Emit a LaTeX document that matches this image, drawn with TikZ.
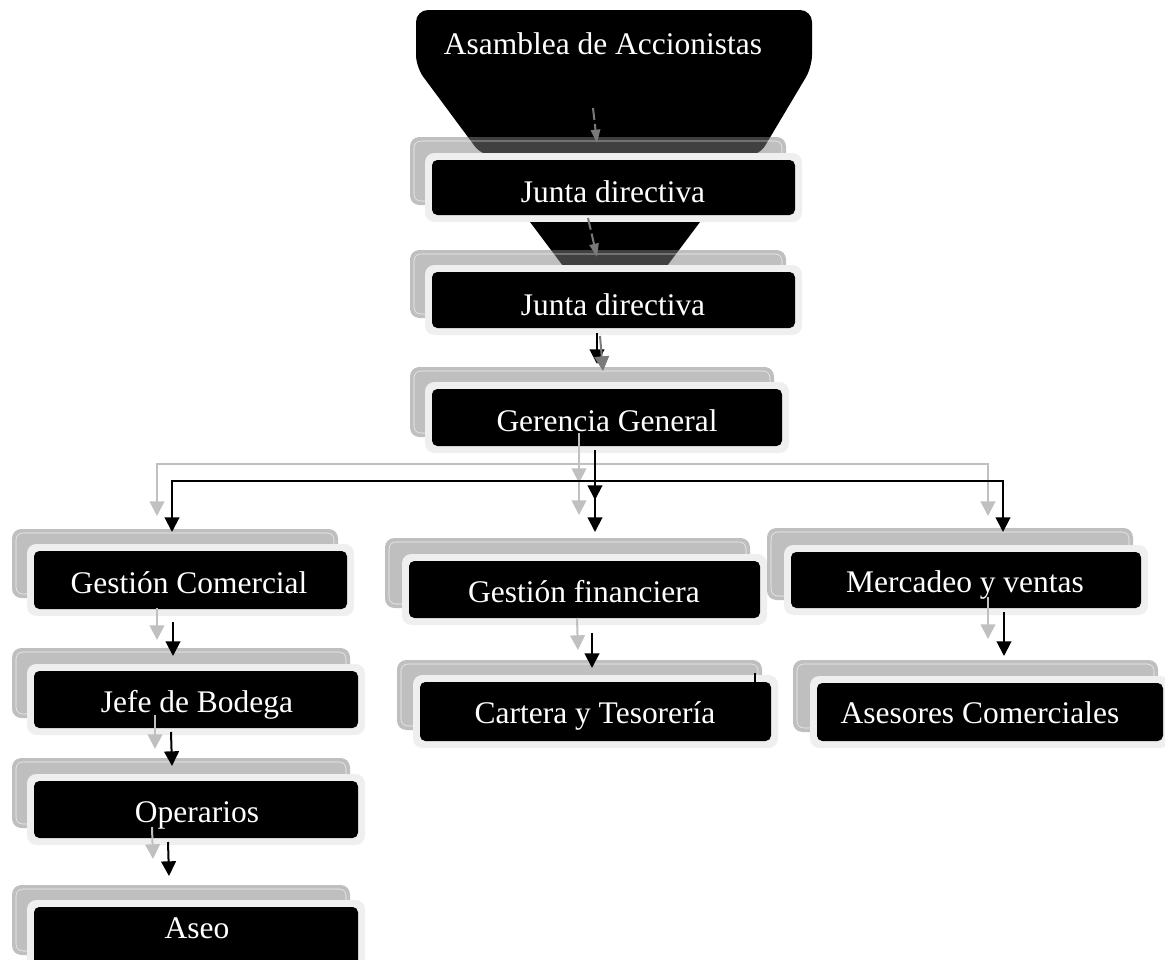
\documentclass[tikz,border=0pt]{standalone}
\usepackage{fontspec}
\setmainfont{Liberation Serif}
\usetikzlibrary{arrows.meta,calc}
\definecolor{framegray}{HTML}{EFEFEF}
\definecolor{linegray}{HTML}{C0C0C0}
\definecolor{midgray}{HTML}{7A7A7A}
\tikzset{
  backbox/.style={fill=gray, fill opacity=0.5, rounded corners=7pt},
  backline/.style={draw=white, draw opacity=0.75, line width=0.4pt, rounded corners=5pt},
  framebox/.style={fill=framegray, rounded corners=7pt},
  innerbox/.style={fill=black, rounded corners=4pt},
  lbl/.style={text=white, inner sep=0pt, anchor=base, font=\fontsize{23.6}{28}\selectfont},
  blk/.style={draw=black, line width=1.5pt, -{Triangle[width=11pt,length=11pt]}},
  gry/.style={draw=linegray, line width=1.5pt, -{Triangle[width=11pt,length=11pt]}},
  blkline/.style={draw=black, line width=1.3pt},
  dgry/.style={draw=midgray, line width=1.5pt, dash pattern=on 9pt off 3pt, -{Triangle[width=7pt,length=10pt]}},
  mgry/.style={draw=midgray, line width=1.5pt, -{Triangle[width=11pt,length=11pt]}}
}
\newcommand\orgunit[8]{%
  \fill[backbox] (#1,#2) rectangle (#3,#4);
  \draw[backline] ($(#1,#2)+(4,4)$) rectangle ($(#3,#4)+(-4,-4)$);
  \fill[framebox] (#5,#6) rectangle (#7,#8);
  \fill[innerbox] ($(#5,#6)+(7,7)$) rectangle ($(#7,#8)+(-7,-7)$);
}
\begin{document}
\begin{tikzpicture}[x=0.75pt,y=-0.75pt]
\useasboundingbox (0,0) rectangle (1165,960);
% top trapezoid
\fill[black, rounded corners=9pt] (482,156) -- (416,67) -- (416,10) -- (812,10) -- (812,67) -- (759,156) -- cycle;
\node[lbl] (asamblea) at (603,55) {Asamblea de Accionistas};
% Junta directiva 1
\orgunit{410}{137}{786}{205}{425}{153}{802}{222}
\node[lbl] (junta1) at (613,202) {Junta directiva};
% second trapezoid
\fill[black] (530,222) -- (700,222) -- (667,266) -- (563,266) -- cycle;
% Junta directiva 2
\orgunit{410}{250}{786}{318}{425}{265}{802}{335}
\node[lbl] (junta2) at (613,315) {Junta directiva};
% Gerencia
\orgunit{410}{367}{774}{437}{425}{382}{789}{453}
\node[lbl] (gerencia) at (607,431) {Gerencia General};
% row 2
\orgunit{12}{529}{338}{598}{27}{544}{354}{616}
\node[lbl] (gc) at (189,593) {Gestión Comercial};
\orgunit{385}{538}{750}{608}{402}{554}{767}{625}
\node[lbl] (gf) at (584,602) {Gestión financiera};
\orgunit{767}{528}{1133}{600}{784}{545}{1148}{615}
\node[lbl] (mv) at (965,592) {Mercadeo y ventas};
% row 3
\orgunit{12}{648}{350}{718}{27}{664}{365}{735}
\node[lbl] (jb) at (197,712) {Jefe de Bodega};
\orgunit{397}{660}{762}{730}{413}{675}{778}{748}
\node[lbl] (ct) at (595,723) {Cartera y Tesorería};
\orgunit{793}{660}{1158}{732}{810}{676}{1170}{748}
\node[lbl] (ac) at (980,723) {Asesores Comerciales};
% rows 4, 5
\orgunit{12}{758}{350}{828}{27}{774}{365}{845}
\node[lbl] (op) at (197,822) {Operarios};
\orgunit{12}{885}{350}{955}{27}{900}{365}{985}
\node[lbl] (aseo) at (197,938) {Aseo};
% connector coordinates
\coordinate (a0) at (593,108); \coordinate (a1) at (597,143);
\coordinate (b0) at (588,218); \coordinate (b1) at (597,257);
\coordinate (c0) at (597,333); \coordinate (c1) at (597,364);
\coordinate (c2) at (600,336); \coordinate (c3) at (603,371);
\coordinate (g0) at (579,433); \coordinate (g1) at (579,483);
\coordinate (gj) at (579,464); \coordinate (g2) at (579,515);
\coordinate (gl) at (157,516); \coordinate (gr) at (988,516);
\coordinate (k0) at (595,450); \coordinate (k1) at (595,500);
\coordinate (kj) at (595,481); \coordinate (k2) at (595,532);
\coordinate (kl) at (172,532); \coordinate (kr) at (1003,532);
\coordinate (d0) at (157,608); \coordinate (d1) at (157,640);
\coordinate (d2) at (173,622); \coordinate (d3) at (173,656);
\coordinate (e0) at (577,618); \coordinate (e1) at (578,650);
\coordinate (e2) at (592,633); \coordinate (e3) at (592,668);
\coordinate (f0) at (988,597); \coordinate (f1) at (988,639);
\coordinate (f2) at (1004,612); \coordinate (f3) at (1004,656);
\coordinate (h0) at (155,715); \coordinate (h1) at (155,749);
\coordinate (h2) at (171,732); \coordinate (h3) at (172,766);
\coordinate (i0) at (152,827); \coordinate (i1) at (153,859);
\coordinate (i2) at (168,842); \coordinate (i3) at (169,876);
\coordinate (t0) at (755,673); \coordinate (t1) at (755,688);
% connectors
\draw[dgry] (a0) -- (a1);
\draw[dgry] (b0) -- (b1);
\draw[blk] (c0) -- (c1);
\draw[mgry] (c2) -- (c3);
\draw[gry] (gj) -| (gl);
\draw[gry] (gj) -| (gr);
\draw[gry] (g0) -- (g1);
\draw[gry] (gj) -- (g2);
\draw[blk] (kj) -| (kl);
\draw[blk] (kj) -| (kr);
\draw[blk] (k0) -- (k1);
\draw[blk] (kj) -- (k2);
\draw[gry] (d0) -- (d1);
\draw[blk] (d2) -- (d3);
\draw[gry] (e0) -- (e1);
\draw[blk] (e2) -- (e3);
\draw[gry] (f0) -- (f1);
\draw[blk] (f2) -- (f3);
\draw[gry] (h0) -- (h1);
\draw[blk] (h2) -- (h3);
\draw[gry] (i0) -- (i1);
\draw[blk] (i2) -- (i3);
\draw[blkline] (t0) -- (t1);
\end{tikzpicture}
\end{document}
